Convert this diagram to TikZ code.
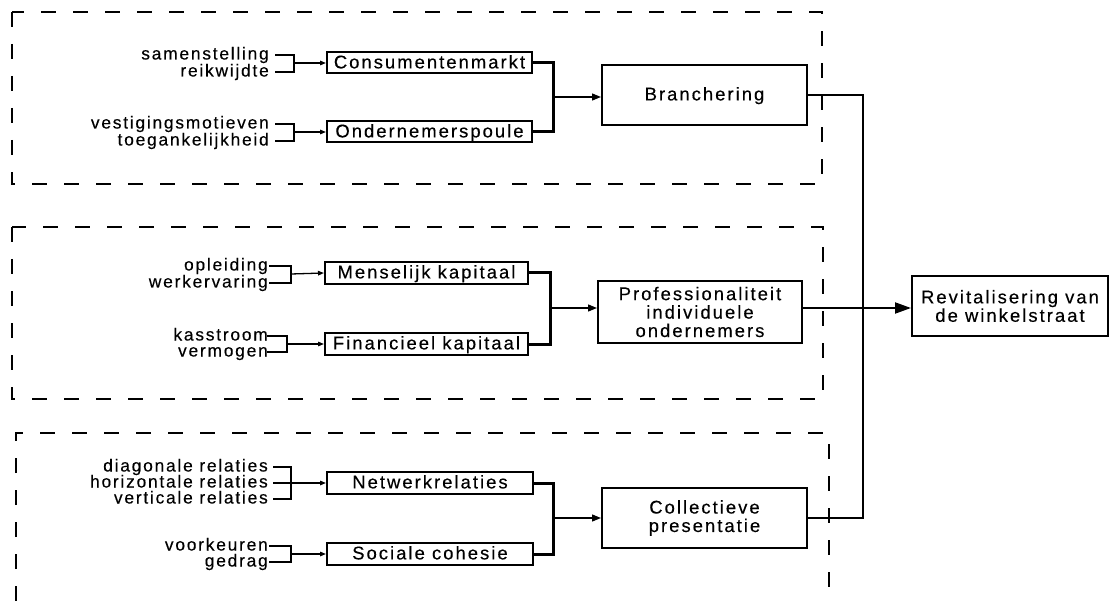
\documentclass[tikz,border=0pt]{standalone}
\usepackage{fontspec}
\setmainfont{Liberation Sans}
\newfontfamily\lblfont{Liberation Sans}[LetterSpace=10,FakeBold=0.3]
\newfontfamily\boxfont{Liberation Sans}[LetterSpace=11,FakeBold=0.3]
\usetikzlibrary{arrows.meta}
\begin{document}
\begin{tikzpicture}[x=1bp,y=-1bp,
  grp/.style={draw, line width=2bp, dash pattern=on 15bp off 17bp},
  box/.style={draw, line width=2bp, inner sep=0pt, align=center,
    font=\boxfont\fontsize{18.5}{18.5}\selectfont},
  box1/.style={box, text height=13.3bp, text depth=2.5bp},
  lbl/.style={inner sep=0pt, anchor=east, text height=9bp, text depth=0pt,
    font=\lblfont\fontsize{17.5}{18}\selectfont},
  thinln/.style={line width=1.3bp},
  sarrow/.style={thinln, -{Triangle[length=6bp,width=4.5bp]}},
  marrow/.style={line width=1.3bp, -{Triangle[length=9bp,width=7bp]}},
  barrow/.style={line width=2bp, -{Triangle[length=16bp,width=11bp]}},
  brk/.style={line width=3bp},
  trunk/.style={line width=2.5bp},
]
\useasboundingbox (0,0) rectangle (1112,601);

% dashed groups
\draw[grp] (12,12) rectangle (822,184);
\draw[grp] (12,227) rectangle (823,399);
\draw[grp] (16,601) |- (829,433) -- (829,601);

% ---------- top group ----------
\node[box1, minimum width=205bp, minimum height=21bp] (consum) at (429.5,63) {Consumentenmarkt};
\node[box1, minimum width=205bp, minimum height=21bp] (onder) at (429.5,132) {Ondernemerspoule};
\node[box1, minimum width=205bp, minimum height=60bp] (branch) at (704.5,95) {Branchering};

\node[lbl] (l1) at (269,55) {samenstelling};
\node[lbl] (l2) at (269,72) {reikwijdte};
\node[lbl] (l3) at (269,124) {vestigingsmotieven};
\node[lbl] (l4) at (269,141) {toegankelijkheid};
\coordinate (b1) at (294,63);
\coordinate (b2) at (294,132);
\draw[thinln] ([xshift=6bp]l1.east) -- (l1.east -| b1) -- (l2.east -| b1) -- ([xshift=6bp]l2.east);
\draw[sarrow] (b1) -- (consum.west);
\draw[thinln] ([xshift=6bp]l3.east) -- (l3.east -| b2) -- (l4.east -| b2) -- ([xshift=6bp]l4.east);
\draw[sarrow] (b2) -- (onder.west);

\coordinate (j1) at (553,97);
\draw[brk] (consum.east) -| (j1) |- (onder.east);
\draw[marrow] (j1) -- (j1 -| branch.west);

% ---------- middle group ----------
\node[box1, minimum width=203bp, minimum height=22bp] (mensel) at (426.5,273) {Menselijk kapitaal};
\node[box1, minimum width=203bp, minimum height=22bp] (finan) at (426.5,344) {Financieel kapitaal};
\node[box, minimum width=204bp, minimum height=61bp] (prof) at (700,312) {Professionaliteit\\individuele\\ondernemers};
\node[box, minimum width=196bp, minimum height=60bp] (revit) at (1010,306) {Revitalisering van\\de winkelstraat};

\node[lbl] (m1) at (268,266) {opleiding};
\node[lbl] (m2) at (268,283) {werkervaring};
\node[lbl] (m3) at (268,336) {kasstroom};
\node[lbl] (m4) at (268,352) {vermogen};
\coordinate (b3) at (291,274);
\coordinate (b4) at (287,344);
\draw[thinln] ([xshift=1bp]m1.east) -- (m1.east -| b3) -- (m2.east -| b3) -- ([xshift=1bp]m2.east);
\draw[sarrow] (b3) -- (mensel.west);
\draw[thinln] ([xshift=-1bp]m3.east) -- (m3.east -| b4) -- (m4.east -| b4) -- ([xshift=-1bp]m4.east);
\draw[sarrow] (b4) -- (finan.west);

\coordinate (j2) at (550,308);
\draw[brk] (mensel.east) -| (j2) |- (finan.east);
\draw[marrow] (j2) -- (j2 -| prof.west);
\draw[barrow] (prof.east |- j2) -- (revit.west |- j2);

% ---------- bottom group ----------
\node[box1, minimum width=206bp, minimum height=22bp] (netw) at (430,483) {Netwerkrelaties};
\node[box1, minimum width=206bp, minimum height=22bp] (socia) at (430,554) {Sociale cohesie};
\node[box, minimum width=205bp, minimum height=60bp] (coll) at (704.5,518) {Collectieve\\presentatie};

\node[lbl] (d1) at (268,467) {diagonale relaties};
\node[lbl] (d2) at (268,483) {horizontale relaties};
\node[lbl] (d3) at (268,499) {verticale relaties};
\node[lbl] (v1) at (268,546) {voorkeuren};
\node[lbl] (v2) at (268,562) {gedrag};
\coordinate (b5) at (291,483);
\coordinate (b6) at (291,554);
\draw[thinln] ([xshift=5bp]d1.east) -- (d1.east -| b5) -- (d3.east -| b5) -- ([xshift=5bp]d3.east);
\draw[sarrow] ([xshift=5bp]d2.east) -- (netw.west);
\draw[thinln] ([xshift=1bp]v1.east) -- (v1.east -| b6) -- (v2.east -| b6) -- ([xshift=1bp]v2.east);
\draw[sarrow] (b6) -- (socia.west);

\coordinate (j3) at (553,518);
\draw[brk] (netw.east) -| (j3) |- (socia.east);
\draw[marrow] (j3) -- (j3 -| coll.west);

% ---------- trunk ----------
\coordinate (t1) at (863,95);
\coordinate (t3) at (863,518);
\draw[trunk] (branch.east) -- (t1) -- (t3) -- (coll.east);
\end{tikzpicture}
\end{document}
